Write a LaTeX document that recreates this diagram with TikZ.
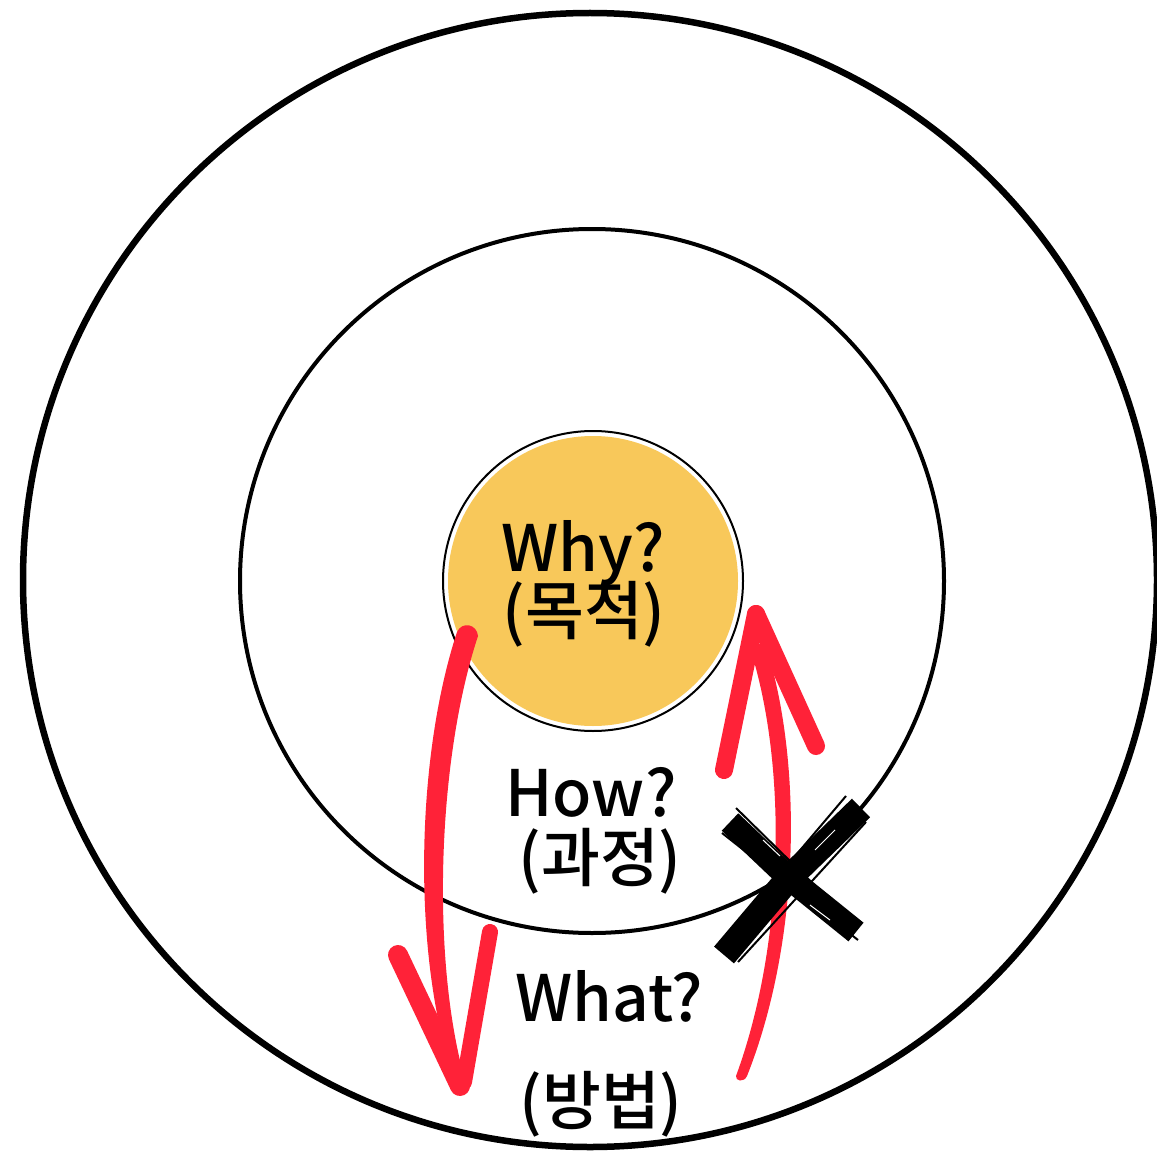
\documentclass[tikz,border=0pt]{standalone}
\usepackage{fontspec}
\setmainfont{Noto Sans CJK KR}
\newfontfamily\lblfont{Noto Sans CJK KR Medium}
\definecolor{ringorange}{HTML}{F8C85A}
\definecolor{penred}{HTML}{FF2238}
\begin{document}
\begin{tikzpicture}[x=1pt,y=-1pt,
  ring/.style={draw=black},
  lbl/.style={font=\lblfont\fontsize{64}{70}\selectfont, inner sep=0pt, anchor=base},
  redstroke/.style={draw=penred, line cap=round, line join=round},
  xstroke/.style={draw=black, line cap=butt}]
\useasboundingbox (0,0) rectangle (1157,1153);
\fill[white] (0,0) rectangle (1157,1153);
% rings
\node[ring, circle, line width=6.5pt, minimum size=1134pt, inner sep=0pt] (outer) at (590,580) {};
\node[ring, circle, line width=4pt, minimum size=704pt, inner sep=0pt] (middle) at (592,581) {};
\node[ring, circle, line width=2pt, minimum size=300pt, inner sep=0pt] (inner) at (593,581) {};
\fill[ringorange] (inner.center) circle (145);
% labels
\node[lbl] (why) at (583,571) {Why?};
\node[lbl] (mokjeok) at (584,634) {(목적)};
\node[lbl] (how) at (591,816) {How?};
\node[lbl] (gwajeong) at (600,881) {(과정)};
\node[lbl] (what) at (609,1021) {What?};
\node[lbl] (bangbeop) at (601,1124) {(방법)};
% left red arrow (down)
\coordinate (ltop) at (467,630);
\coordinate (ltip) at (460,1086);
\fill[penred] (457,632) .. controls (415,760) and (412,960) .. (455,1082)
  -- (465,1080) .. controls (431,960) and (437,760) .. (478,636)
  .. controls (477,624) and (462,621) .. (457,632) -- cycle;
\draw[redstroke, line width=20pt] (398,955) -- (ltip);
\draw[redstroke, line width=16pt] (490,932) -- (464,1082);
% right red arrow (up)
\coordinate (rbot) at (742,1075);
\coordinate (rtip) at (756,614);
\fill[penred] (736,1076) .. controls (786,940) and (787,760) .. (749,645)
  -- (765,643) .. controls (803,760) and (801,940) .. (747,1076)
  .. controls (744,1083) and (735,1081) .. (736,1076) -- cycle;
\draw[redstroke, line width=18pt] (724,770) -- (rtip);
\draw[redstroke, line width=18pt] (rtip) -- (816,746);
% black cross
\coordinate (xc) at (789,878);
\draw[xstroke, line width=24pt] (730,822) -- (xc) -- (856,932);
\draw[xstroke, line width=26pt] (861,808) -- (xc) -- (724,955);
\draw[xstroke, line width=2pt] (736,808) -- (852,922);
\draw[xstroke, line width=2pt] (722,833) -- (858,940);
\draw[xstroke, line width=2pt] (846,796) -- (719,946);
\draw[xstroke, line width=2pt] (866,822) -- (738,962);
\draw[white, line width=1pt] (763,840) -- (780,856);
\draw[white, line width=1pt] (810,905) -- (830,920);
\draw[white, line width=1pt] (815,850) -- (835,830);
\end{tikzpicture}
\end{document}
